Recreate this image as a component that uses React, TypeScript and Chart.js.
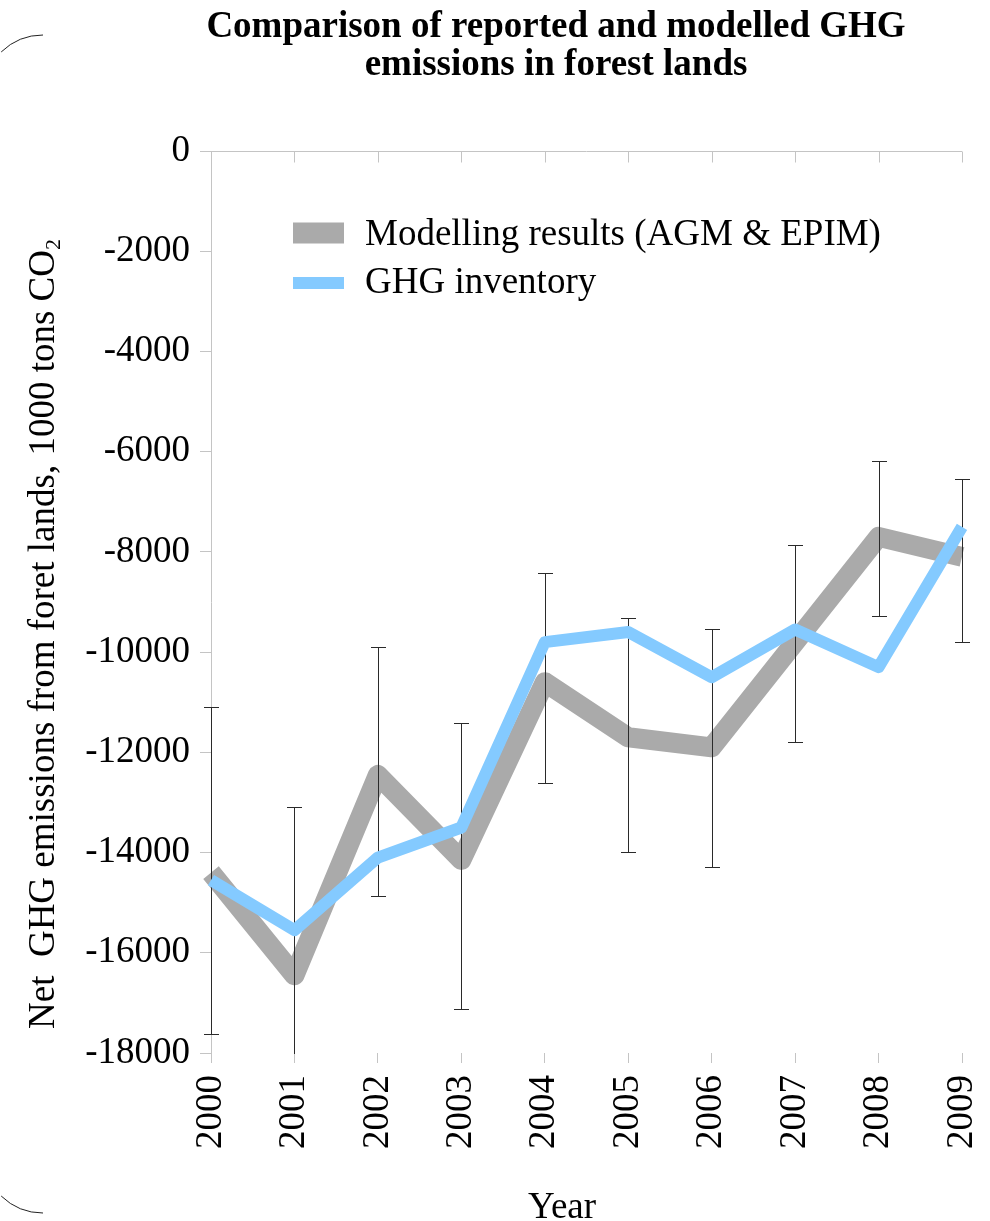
import React, { useEffect, useRef } from "react";
import { Chart, registerables } from "chart.js";

Chart.register(...registerables);

const years = ["2000", "2001", "2002", "2003", "2004", "2005", "2006", "2007", "2008", "2009"];
const modelling = [-14400, -16450, -12450, -14150, -10600, -11700, -11900, -9800, -7700, -8100];
const inventory = [-14550, -15550, -14100, -13500, -9800, -9600, -10500, -9550, -10300, -7500];
const errHigh = [-11100, -13100, -9900, -11420, -8420, -9320, -9540, -7860, -6190, -6550];
const errLow = [-17620, -19500, -14870, -17130, -12620, -13990, -14290, -11800, -9280, -9800];
const yTicks = [0, -2000, -4000, -6000, -8000, -10000, -12000, -14000, -16000, -18000];

const titleLines = ["Comparison of reported and modelled GHG", "emissions in forest lands"];
const seriesNames = ["Modelling results (AGM & EPIM)", "GHG inventory"];
const yTitleMain = "Net  GHG emissions from foret lands, 1000 tons CO";
const yTitleSub = "2";
const xTitle = "Year";

const FONT = "'Liberation Serif', 'Times New Roman', serif";
const GREY = "#aaaaaa";
const BLUE = "#84caff";
const AXIS = "#c4c4c4";

const errorBarPlugin = {
  id: "errorBars",
  afterDatasetDraw(chart: any, args: any) {
    if (args.index !== 0) return;
    const { ctx, chartArea } = chart;
    const xs = chart.scales.x;
    const ys = chart.scales.y;
    ctx.save();
    ctx.beginPath();
    ctx.rect(chartArea.left - 10, chartArea.top, chartArea.right - chartArea.left + 20, chartArea.bottom - chartArea.top + 1);
    ctx.clip();
    ctx.strokeStyle = "#2a2a2a";
    ctx.lineWidth = 1;
    for (let i = 0; i < years.length; i++) {
      const x = Math.round(xs.getPixelForTick(i)) + 0.5;
      const yh = Math.round(ys.getPixelForValue(errHigh[i])) + 0.5;
      const yl = Math.round(ys.getPixelForValue(errLow[i])) + 0.5;
      ctx.beginPath();
      ctx.moveTo(x, yh);
      ctx.lineTo(x, yl);
      ctx.moveTo(x - 7.5, yh);
      ctx.lineTo(x + 7.5, yh);
      ctx.moveTo(x - 7.5, yl);
      ctx.lineTo(x + 7.5, yl);
      ctx.stroke();
    }
    ctx.restore();
  },
};

const decorPlugin = {
  id: "decor",
  beforeDatasetsDraw(chart: any) {
    const { ctx } = chart;
    const xs = chart.scales.x;
    const ys = chart.scales.y;
    const y0 = Math.round(ys.getPixelForValue(0)) + 0.5;
    ctx.save();
    ctx.strokeStyle = AXIS;
    ctx.lineWidth = 1;
    ctx.beginPath();
    ctx.moveTo(xs.left, y0);
    ctx.lineTo(xs.right, y0);
    for (let i = 0; i < years.length; i++) {
      const x = Math.round(xs.getPixelForTick(i)) + 0.5;
      ctx.moveTo(x, y0);
      ctx.lineTo(x, y0 + 11);
    }
    ctx.stroke();
    ctx.restore();
  },
  afterDraw(chart: any) {
    const { ctx, chartArea } = chart;
    ctx.save();
    // title
    ctx.fillStyle = "#000";
    ctx.textAlign = "center";
    ctx.textBaseline = "alphabetic";
    ctx.font = `bold 37px ${FONT}`;
    ctx.fillText(titleLines[0], 556, 37);
    ctx.fillText(titleLines[1], 556, 75);

    // legend
    const lx = chartArea.left + 82;
    const ly1 = chartArea.top + 82;
    const ly2 = chartArea.top + 132;
    ctx.fillStyle = GREY;
    ctx.fillRect(lx, ly1 - 10.5, 51, 21);
    ctx.fillStyle = BLUE;
    ctx.fillRect(lx, ly2 - 6, 51, 12);
    ctx.fillStyle = "#000";
    ctx.textAlign = "left";
    ctx.font = `37px ${FONT}`;
    ctx.fillText(seriesNames[0], lx + 72, ly1 + 12);
    ctx.fillText(seriesNames[1], lx + 72, ly2 + 10);

    // x title
    ctx.textAlign = "center";
    ctx.fillText(xTitle, 562, 1218);

    // y title with subscript
    ctx.save();
    ctx.translate(54, 634);
    ctx.rotate(-Math.PI / 2);
    ctx.font = `37px ${FONT}`;
    const wMain = ctx.measureText(yTitleMain).width;
    ctx.font = `22px ${FONT}`;
    const wSub = ctx.measureText(yTitleSub).width;
    const total = wMain + wSub;
    ctx.textAlign = "left";
    ctx.font = `37px ${FONT}`;
    ctx.fillText(yTitleMain, -total / 2, 0);
    ctx.font = `22px ${FONT}`;
    ctx.fillText(yTitleSub, -total / 2 + wMain, 6);
    ctx.restore();

    // decorative corner arcs
    ctx.strokeStyle = "#222";
    ctx.lineWidth = 1;
    ctx.beginPath();
    ctx.arc(43, 95, 60, Math.PI + 0.8, Math.PI * 1.5);
    ctx.stroke();
    ctx.beginPath();
    ctx.arc(43, 1153, 60, Math.PI * 0.5, Math.PI - 0.8);
    ctx.stroke();
    ctx.restore();
  },
};

export default function App() {
  const ref = useRef<HTMLCanvasElement | null>(null);
  useEffect(() => {
    if (!ref.current) return;
    const chart = new Chart(ref.current, {
      type: "line",
      data: {
        labels: years,
        datasets: [
          {
            label: seriesNames[0],
            data: modelling,
            borderColor: GREY,
            backgroundColor: GREY,
            borderWidth: 20,
            borderJoinStyle: "round",
            pointRadius: 0,
            tension: 0,
            order: 2,
          },
          {
            label: seriesNames[1],
            data: inventory,
            borderColor: BLUE,
            backgroundColor: BLUE,
            borderWidth: 12,
            borderJoinStyle: "round",
            pointRadius: 0,
            tension: 0,
            order: 1,
          },
        ],
      },
      options: {
        animation: false,
        responsive: false,
        maintainAspectRatio: false,
        devicePixelRatio: 1,
        layout: { padding: { top: 151, right: 0, left: 0, bottom: 0 } },
        plugins: {
          legend: { display: false },
          title: { display: false },
          tooltip: { enabled: false },
        },
        scales: {
          x: {
            type: "category",
            offset: false,
            grid: { drawOnChartArea: false, drawTicks: true, tickLength: 10, color: AXIS },
            border: { display: false },
            ticks: {
              minRotation: 90,
              maxRotation: 90,
              padding: 12,
              color: "#000",
              font: { family: FONT, size: 37 },
              autoSkip: false,
            },
            afterFit(scale: any) {
              scale.height = 168;
              scale.paddingRight = 28;
              scale.paddingLeft = 0;
            },
          },
          y: {
            min: -18000,
            max: 0,
            afterBuildTicks(scale: any) {
              scale.ticks = yTicks.map((v) => ({ value: v }));
            },
            grid: { drawOnChartArea: false, drawTicks: true, tickLength: 11, color: AXIS },
            border: { display: true, color: AXIS },
            ticks: {
              padding: 10,
              color: "#000",
              font: { family: FONT, size: 37 },
              callback: (v: any) => String(v),
            },
            afterFit(scale: any) {
              scale.width = 211;
            },
          },
        },
      },
      plugins: [errorBarPlugin, decorPlugin],
    });
    return () => chart.destroy();
  }, []);
  return (
    <div style={{ position: "absolute", left: 0, top: 0, width: 990, height: 1221, background: "#fff" }}>
      <canvas ref={ref} width={990} height={1221} style={{ width: 990, height: 1221, display: "block" }} />
    </div>
  );
}
